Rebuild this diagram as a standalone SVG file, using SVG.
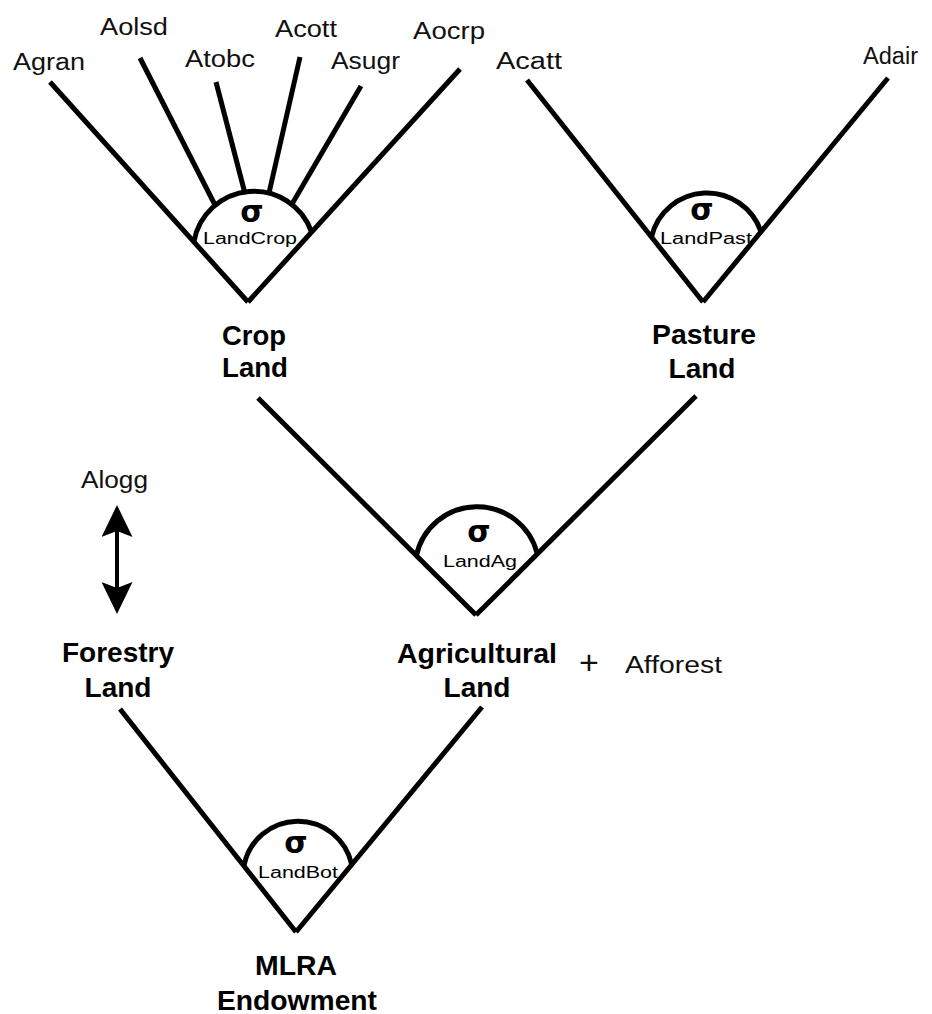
<svg xmlns="http://www.w3.org/2000/svg" width="932" height="1014" viewBox="0 0 932 1014">
  <style>
    .line { stroke: #000; stroke-width: 5; fill: none; stroke-linecap: butt; }
    .arc { stroke: #000; stroke-width: 5; fill: none; }
    .lbl { font-family: "Liberation Sans", Arial, sans-serif; font-size: 23px; fill: #111; }
    .plus { font-family: "Liberation Sans", Arial, sans-serif; font-size: 34px; fill: #111; text-anchor: middle; }
    .bold { font-family: "Liberation Sans", Arial, sans-serif; font-size: 28px; font-weight: bold; fill: #000; text-anchor: middle; }
    .sig { font-family: "DejaVu Sans", "Liberation Sans", sans-serif; font-size: 30px; font-weight: bold; fill: #000; text-anchor: middle; }
    .nest { font-family: "Liberation Sans", Arial, sans-serif; font-size: 16px; fill: #000; }
  </style>
  <defs>
    <marker id="head" markerUnits="userSpaceOnUse" viewBox="0 0 32 31" markerWidth="32" markerHeight="31" refX="28" refY="15.5" orient="auto-start-reverse">
      <path d="M0,0 L32,15.5 L0,31 L6,15.5 Z" fill="#000"/>
    </marker>
  </defs>
  <rect width="932" height="1014" fill="#fff"/>

  <!-- branches of the nesting tree -->
  <g id="connectors">
    <!-- crop land nest -->
    <line class="line" x1="50" y1="82" x2="248" y2="302"/>
    <line class="line" x1="460" y1="69" x2="248" y2="302"/>
    <line class="line" x1="140" y1="58" x2="215" y2="205"/>
    <line class="line" x1="216" y1="82" x2="244.6" y2="192"/>
    <line class="line" x1="300" y1="57" x2="269" y2="193"/>
    <line class="line" x1="361" y1="86" x2="292" y2="204"/>
    <!-- pasture land nest -->
    <line class="line" x1="527" y1="80" x2="703" y2="302"/>
    <line class="line" x1="888" y1="78" x2="703" y2="302"/>
    <!-- agricultural land nest -->
    <line class="line" x1="258" y1="398" x2="476" y2="615"/>
    <line class="line" x1="696" y1="396" x2="476" y2="615"/>
    <!-- top level nest -->
    <line class="line" x1="120" y1="709" x2="296" y2="932"/>
    <line class="line" x1="482" y1="707" x2="296" y2="932"/>
    <!-- logging transfer -->
    <line x1="117" y1="509" x2="117" y2="610" stroke="#000" stroke-width="4" marker-start="url(#head)" marker-end="url(#head)"/>
  </g>

  <!-- leaf activities -->
  <g id="leaves">
    <text class="lbl" x="13" y="70" textLength="72" lengthAdjust="spacingAndGlyphs">Agran</text>
    <text class="lbl" x="100" y="35" textLength="68" lengthAdjust="spacingAndGlyphs">Aolsd</text>
    <text class="lbl" x="185" y="67" textLength="70" lengthAdjust="spacingAndGlyphs">Atobc</text>
    <text class="lbl" x="275" y="37" textLength="62" lengthAdjust="spacingAndGlyphs">Acott</text>
    <text class="lbl" x="331" y="69" textLength="69" lengthAdjust="spacingAndGlyphs">Asugr</text>
    <text class="lbl" x="413" y="39" textLength="72" lengthAdjust="spacingAndGlyphs">Aocrp</text>
    <text class="lbl" x="496" y="69" textLength="66" lengthAdjust="spacingAndGlyphs">Acatt</text>
    <text class="lbl" x="863" y="64" textLength="55" lengthAdjust="spacingAndGlyphs">Adair</text>
  </g>

  <g id="node-landcrop">
    <path class="arc" d="M193.9,241.9 A61,61 0 0 1 311.6,232.1"/>
    <text class="sig" x="252" y="222">σ</text>
    <text class="nest" x="203" y="244" textLength="94" lengthAdjust="spacingAndGlyphs">LandCrop</text>
    <text class="bold" x="254" y="345" textLength="64" lengthAdjust="spacingAndGlyphs">Crop</text>
    <text class="bold" x="255" y="377" textLength="66" lengthAdjust="spacingAndGlyphs">Land</text>
  </g>

  <g id="node-landpast">
    <path class="arc" d="M651.5,236.9 A57,57 0 0 1 761,231.8"/>
    <text class="sig" x="702" y="220">σ</text>
    <text class="nest" x="660" y="244" textLength="92" lengthAdjust="spacingAndGlyphs">LandPast</text>
    <text class="bold" x="704" y="344" textLength="104" lengthAdjust="spacingAndGlyphs">Pasture</text>
    <text class="bold" x="702" y="378" textLength="67" lengthAdjust="spacingAndGlyphs">Land</text>
  </g>

  <g id="node-landag">
    <path class="arc" d="M416.4,555.8 A62,62 0 0 1 537.3,554"/>
    <text class="sig" x="479" y="542">σ</text>
    <text class="nest" x="443" y="567" textLength="74" lengthAdjust="spacingAndGlyphs">LandAg</text>
    <text class="bold" x="477" y="663" textLength="160" lengthAdjust="spacingAndGlyphs">Agricultural</text>
    <text class="bold" x="477" y="697" textLength="67" lengthAdjust="spacingAndGlyphs">Land</text>
  </g>

  <g id="node-afforest">
    <text class="plus" x="589" y="674">+</text>
    <text class="lbl" x="625" y="673" textLength="97" lengthAdjust="spacingAndGlyphs">Afforest</text>
  </g>

  <g id="node-forestry">
    <text class="lbl" x="81" y="488" textLength="67" lengthAdjust="spacingAndGlyphs">Alogg</text>
    <text class="bold" x="118" y="662" textLength="112" lengthAdjust="spacingAndGlyphs">Forestry</text>
    <text class="bold" x="118" y="697" textLength="67" lengthAdjust="spacingAndGlyphs">Land</text>
  </g>

  <g id="node-landbot">
    <path class="arc" d="M243.9,866.1 A55,55 0 0 1 351.7,864.5"/>
    <text class="sig" x="296" y="853">σ</text>
    <text class="nest" x="258" y="878" textLength="80" lengthAdjust="spacingAndGlyphs">LandBot</text>
    <text class="bold" x="296" y="975" textLength="82" lengthAdjust="spacingAndGlyphs">MLRA</text>
    <text class="bold" x="297" y="1010" textLength="160" lengthAdjust="spacingAndGlyphs">Endowment</text>
  </g>
</svg>
